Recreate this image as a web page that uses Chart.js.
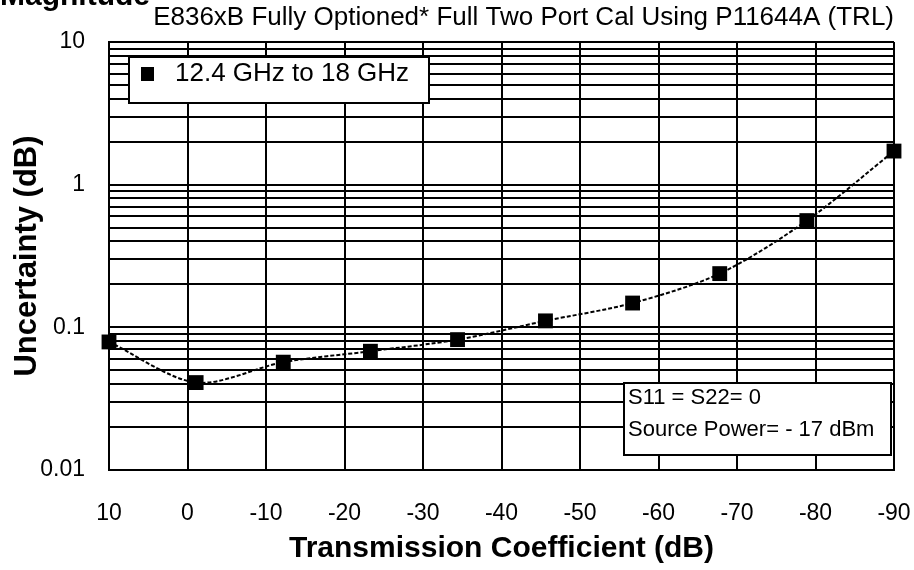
<!DOCTYPE html>
<html>
<head>
<meta charset="utf-8">
<script src="https://cdn.jsdelivr.net/npm/chart.js@4.4.1/dist/chart.umd.min.js"></script>
<style>
  html, body { margin: 0; padding: 0; background: #fff; }
  #wrap { width: 914px; height: 570px; }
</style>
</head>
<body>
<div id="wrap"><canvas id="chart"></canvas></div>
<script>
"use strict";
// Значения (лог. шкала по Y)
const SERIES_LABEL = "12.4 GHz to 18 GHz";
const X_VALUES = [10, -1.1, -12.2, -23.3, -34.4, -45.6, -56.7, -67.8, -78.9, -90];
const Y_VALUES = [0.079, 0.041, 0.057, 0.068, 0.082, 0.111, 0.148, 0.238, 0.56, 1.72];
const X_TICKS = [10, 0, -10, -20, -30, -40, -50, -60, -70, -80, -90];
const Y_GRID = [0.01, 0.02, 0.03, 0.04, 0.05, 0.06, 0.07, 0.08, 0.09,
                0.1, 0.2, 0.3, 0.4, 0.5, 0.6, 0.7, 0.8, 0.9,
                1, 2, 3, 4, 5, 6, 7, 8, 9, 10];
const Y_LABELS = [0.01, 0.1, 1, 10];
const NOTE_LINES = ["S11 = S22= 0", "Source Power= - 17 dBm"];
const TITLE = "E836xB Fully Optioned* Full Two Port Cal Using P11644A (TRL)";

const FONT = "'Liberation Sans', Arial, sans-serif";

// рамки с легендой и примечанием поверх сетки
const boxes = {
  id: "boxes",
  afterDraw(chart) {
    const { ctx, chartArea: a } = chart;
    ctx.save();
    ctx.fillStyle = "#000";
    ctx.font = "bold 30px " + FONT;
    ctx.textBaseline = "alphabetic";
    ctx.fillText("Magnitude", 0, 5);

    // легенда
    let x = a.left + 20, y = a.top + 15;
    ctx.fillStyle = "#fff";
    ctx.fillRect(x, y, 300, 46);
    ctx.strokeStyle = "#000";
    ctx.lineWidth = 2;
    ctx.strokeRect(x, y, 300, 46);
    ctx.fillStyle = "#000";
    ctx.fillRect(x + 12, y + 10, 13, 14);
    ctx.font = "26px " + FONT;
    ctx.textBaseline = "middle";
    ctx.fillText(SERIES_LABEL, x + 46, y + 17);

    // примечание
    const w = 267, h = 72;
    x = a.right - 3 - w; y = a.bottom - 15 - h;
    ctx.fillStyle = "#fff";
    ctx.fillRect(x, y, w, h);
    ctx.strokeRect(x, y, w, h);
    ctx.fillStyle = "#000";
    ctx.font = "22px " + FONT;
    NOTE_LINES.forEach((t, i) => ctx.fillText(t, x + 4, y + 15 + i * 32));
    ctx.restore();
  },
};

new Chart(document.getElementById("chart"), {
  type: "line",
  data: {
    datasets: [{
      label: SERIES_LABEL,
      data: X_VALUES.map((x, i) => ({ x, y: Y_VALUES[i] })),
      borderColor: "#000",
      backgroundColor: "#000",
      borderWidth: 2,
      borderDash: [4, 2],
      tension: 0.3,
      pointStyle: "rect",
      pointRadius: 10.5,
      pointBorderWidth: 0,
      clip: false,
    }],
  },
  options: {
    responsive: true,
    maintainAspectRatio: false,
    animation: false,
    layout: { padding: { left: 0, right: 20, top: 0, bottom: 0 } },
    plugins: {
      legend: { display: false },
      tooltip: { enabled: false },
      title: {
        display: true,
        text: TITLE,
        align: "end",
        color: "#000",
        font: { family: FONT, size: 26, weight: "normal", lineHeight: 1.2 },
        padding: { top: 2, bottom: 8.8 },
      },
    },
    scales: {
      x: {
        type: "linear",
        reverse: true,
        min: -90,
        max: 10,
        afterBuildTicks: (s) => { s.ticks = X_TICKS.map((v) => ({ value: v })); },
        afterFit: (s) => { s.height = 100; s.paddingLeft = 0; s.paddingRight = 0; },
        grid: { color: "#000", lineWidth: 2, drawTicks: false },
        border: { color: "#000", width: 2 },
        ticks: {
          autoSkip: false, maxRotation: 0, padding: 30, color: "#000",
          font: { family: FONT, size: 23 },
          callback: (v) => String(v),
        },
        title: {
          display: true, text: "Transmission Coefficient (dB)", color: "#000",
          font: { family: FONT, size: 30, weight: "bold" },
          padding: { top: 0, bottom: 3 },
        },
      },
      y: {
        type: "logarithmic",
        min: 0.01,
        max: 10,
        afterBuildTicks: (s) => { s.ticks = Y_GRID.map((v) => ({ value: v })); },
        afterFit: (s) => { s.width = 109; s.paddingTop = 0; s.paddingBottom = 0; },
        grid: { color: "#000", lineWidth: 2, drawTicks: false },
        border: { color: "#000", width: 2 },
        ticks: {
          autoSkip: false, padding: 24, color: "#000",
          font: { family: FONT, size: 23 },
          callback: (v) => (Y_LABELS.indexOf(v) >= 0 ? String(v) : ""),
        },
        title: {
          display: true, text: "Uncertainty (dB)", color: "#000",
          font: { family: FONT, size: 31, weight: "bold" },
          padding: { top: 9, bottom: 0 },
        },
      },
    },
  },
  plugins: [boxes],
});
</script>
</body>
</html>
